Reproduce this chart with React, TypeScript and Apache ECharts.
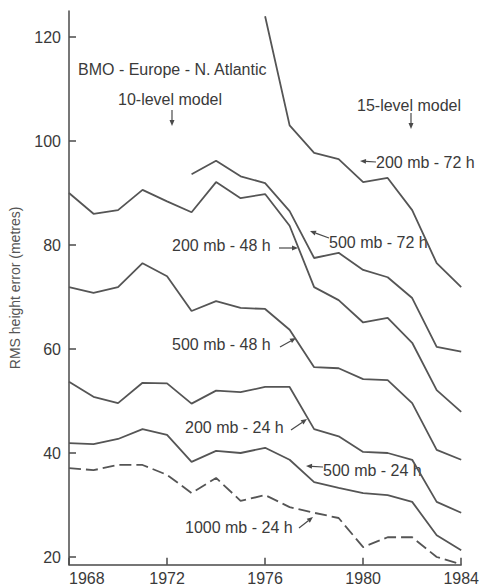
import React, { useEffect, useRef } from "react";
import * as echarts from "echarts";

const years = [1968, 1969, 1970, 1971, 1972, 1973, 1974, 1975, 1976, 1977, 1978, 1979, 1980, 1981, 1982, 1983, 1984];

const mb200h72 = [null, null, null, null, null, null, null, null, 124, 103, 97.7, 96.5, 92.1, 92.9, 86.7, 76.5, 71.9];
const mb500h72 = [null, null, null, null, null, 93.6, 96.2, 93.2, 91.9, 86.5, 77.5, 78.5, 75.2, 73.8, 69.8, 60.4, 59.5];
const mb200h48 = [90.0, 86.0, 86.7, 90.6, 88.4, 86.3, 92.1, 89.0, 89.8, 83.7, 71.9, 69.4, 65.1, 66.0, 61.2, 52.1, 47.9];
const mb500h48 = [71.9, 70.8, 71.9, 76.5, 74.0, 67.3, 69.2, 67.9, 67.7, 63.7, 56.5, 56.3, 54.2, 54.0, 49.6, 40.6, 38.7];
const mb200h24 = [53.7, 50.8, 49.6, 53.5, 53.4, 49.5, 52.0, 51.7, 52.7, 52.7, 44.6, 43.2, 40.2, 40.0, 38.7, 30.6, 28.5];
const mb500h24 = [41.9, 41.7, 42.7, 44.6, 43.5, 38.3, 40.4, 40.0, 41.0, 38.7, 34.4, 33.3, 32.3, 31.9, 30.6, 24.2, 21.3];
const mb1000h24 = [37.1, 36.7, 37.7, 37.7, 35.8, 32.3, 35.2, 30.8, 31.9, 29.6, 28.5, 27.5, 21.9, 23.8, 23.8, 20.0, 18.6];

const yTicks = [20, 40, 60, 80, 100, 120];
const xTicks = [1968, 1972, 1976, 1980, 1984];

const seriesList = [
  { name: "200 mb - 72 h", data: mb200h72, dashed: false },
  { name: "500 mb - 72 h", data: mb500h72, dashed: false },
  { name: "200 mb - 48 h", data: mb200h48, dashed: false },
  { name: "500 mb - 48 h", data: mb500h48, dashed: false },
  { name: "200 mb - 24 h", data: mb200h24, dashed: false },
  { name: "500 mb - 24 h", data: mb500h24, dashed: false },
  { name: "1000 mb - 24 h", data: mb1000h24, dashed: true },
];

const INK = "#4a4a4a";
const TEXT = "#3a3a3a";
const FONT = "'Liberation Sans', Arial, sans-serif";

function arrow(x1: number, y1: number, x2: number, y2: number) {
  const dx = x2 - x1;
  const dy = y2 - y1;
  const len = Math.sqrt(dx * dx + dy * dy);
  const ux = dx / len;
  const uy = dy / len;
  const hl = 6;
  const hw = 2.5;
  const bx = x2 - ux * hl;
  const by = y2 - uy * hl;
  return [
    {
      type: "line",
      shape: { x1, y1, x2: bx, y2: by },
      style: { stroke: INK, lineWidth: 1.2 },
      silent: true,
    },
    {
      type: "polygon",
      shape: {
        points: [
          [x2, y2],
          [bx - uy * hw, by + ux * hw],
          [bx + uy * hw, by - ux * hw],
        ],
      },
      style: { fill: INK },
      silent: true,
    },
  ];
}

function label(text: string, x: number, y: number) {
  return {
    type: "text",
    x,
    y,
    style: {
      text,
      fill: TEXT,
      font: `16px ${FONT}`,
      textVerticalAlign: "middle",
      textAlign: "left",
    },
    silent: true,
  };
}

export default function App() {
  const ref = useRef<HTMLDivElement>(null);

  useEffect(() => {
    if (!ref.current) return;
    const chart = echarts.init(ref.current, null, { renderer: "svg" });

    const graphics: any[] = [
      label("BMO - Europe - N. Atlantic", 78, 69),
      label("10-level model", 118, 99),
      ...arrow(172, 110, 172, 126),
      label("15-level model", 357, 105),
      ...arrow(411, 113, 411, 129),
      label("200 mb - 72 h", 376, 162),
      ...arrow(376, 162, 360, 161),
      label("200 mb - 48 h", 172, 245),
      ...arrow(279, 248, 298, 248),
      label("500 mb - 72 h", 329, 242),
      ...arrow(329, 238, 310, 231),
      label("500 mb - 48 h", 172, 344),
      ...arrow(280, 347, 296, 338),
      label("200 mb - 24 h", 185, 427),
      ...arrow(291, 430, 307, 419),
      label("500 mb - 24 h", 323, 470),
      ...arrow(323, 467, 306, 466),
      label("1000 mb - 24 h", 185, 527),
      ...arrow(299, 528, 313, 517),
    ];

    chart.setOption({
      animation: false,
      backgroundColor: "#ffffff",
      grid: { left: 65, right: 7, top: 11, bottom: 23.2, containLabel: false },
      xAxis: {
        type: "value",
        min: 1968,
        max: 1984,
        interval: 4,
        axisLine: { lineStyle: { color: INK, width: 1.5 } },
        axisTick: { inside: true, length: 7, lineStyle: { color: INK, width: 1.5 } },
        axisLabel: {
          color: TEXT,
          fontSize: 16,
          fontFamily: FONT,
          margin: 6,
          alignMinLabel: "left",
          formatter: (v: number) => (xTicks.includes(v) ? String(v) : ""),
        },
        splitLine: { show: false },
      },
      yAxis: {
        type: "value",
        min: 18.5,
        max: 125,
        name: "RMS height error (metres)",
        nameLocation: "middle",
        nameGap: 47,
        nameTextStyle: { color: "#555", fontSize: 14, fontFamily: FONT },
        axisLine: { lineStyle: { color: INK, width: 1.5 } },
        axisTick: { inside: true, length: 7, customValues: yTicks, lineStyle: { color: INK, width: 1.5 } },
        axisLabel: {
          color: TEXT,
          fontSize: 16,
          fontFamily: FONT,
          margin: 8,
          customValues: yTicks,
        },
        splitLine: { show: false },
      },
      series: seriesList.map((s) => ({
        name: s.name,
        type: "line",
        data: years.map((y, i) => [y, s.data[i]]),
        showSymbol: false,
        symbol: "none",
        connectNulls: false,
        lineStyle: { color: "#555", width: 1.8, type: s.dashed ? [12, 5] : "solid" },
        silent: true,
      })),
      graphic: graphics,
    });

    return () => chart.dispose();
  }, []);

  return (
    <div
      ref={ref}
      style={{ position: "fixed", left: 0, top: 0, width: 482, height: 588, background: "#fff" }}
    />
  );
}
